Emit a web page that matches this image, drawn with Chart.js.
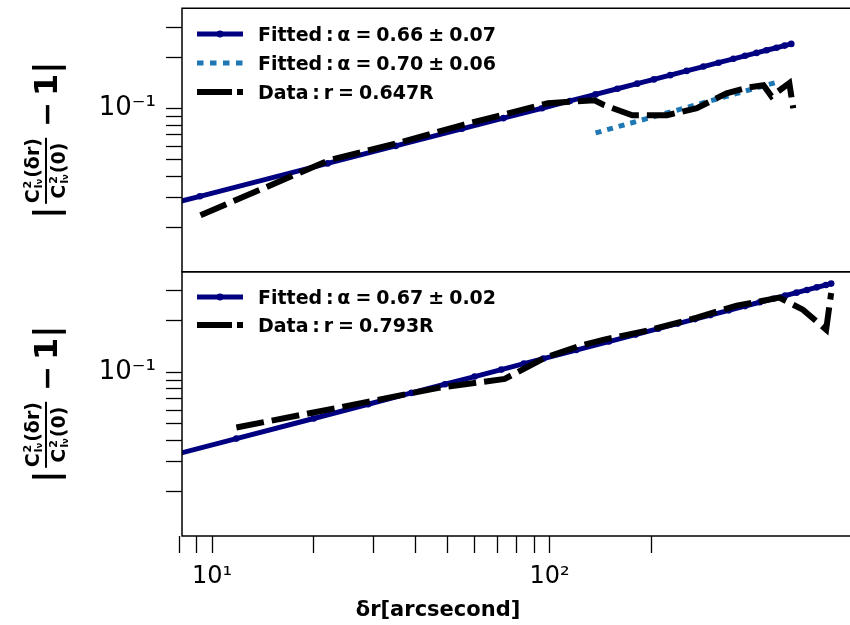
<!DOCTYPE html>
<html>
<head>
<meta charset="utf-8">
<script src="https://cdn.jsdelivr.net/npm/chart.js@4.4.0/dist/chart.umd.min.js"></script>
<style>
html,body{margin:0;padding:0;background:#fff;overflow:hidden;width:850px;height:625px;}
canvas{position:absolute;left:0;top:0;}
.row{position:absolute;left:197px;display:flex;align-items:center;white-space:nowrap;transform:translateY(-50%);
     font:bold 19px "DejaVu Sans";color:#000;word-spacing:-1.6px;}
.row svg{margin-right:15px;display:block;}
.ylab{position:absolute;transform:translate(-50%,-50%) rotate(-90deg);display:flex;align-items:center;
      font-family:"DejaVu Sans";font-weight:bold;white-space:nowrap;color:#000;}
.bar{font-size:34px;line-height:1;}
.frac{display:inline-flex;flex-direction:column;align-items:center;font-size:19px;line-height:1.05;margin:0 3px;}
.fl{align-self:stretch;height:2px;background:#000;margin:1px 0;}
.ss{display:inline-flex;flex-direction:column;font-size:11px;line-height:1;vertical-align:middle;margin:0 1px;}
.ss small{font-size:8px;}
.op{font-size:30px;margin:0 6px 0 8px;}
.one{font-size:32px;}
.xt{position:absolute;left:438px;top:609px;transform:translate(-50%,-50%);font:bold 21px "DejaVu Sans";color:#000;white-space:nowrap;}
</style>
</head>
<body>
<canvas id="cTop" width="852" height="625"></canvas>
<canvas id="cBot" width="852" height="625"></canvas>

<div class="ylab" style="left:46px;top:140px">
  <span class="bar">|</span>
  <span class="frac">
    <span>C<span class="ss"><span>2</span><span>I<small>ν</small></span></span>(δr)</span>
    <span class="fl"></span>
    <span>C<span class="ss"><span>2</span><span>I<small>ν</small></span></span>(0)</span>
  </span>
  <span class="op">−</span><span class="one">1</span>
  <span class="bar">|</span>
</div>
<div class="ylab" style="left:46px;top:404px">
  <span class="bar">|</span>
  <span class="frac">
    <span>C<span class="ss"><span>2</span><span>I<small>ν</small></span></span>(δr)</span>
    <span class="fl"></span>
    <span>C<span class="ss"><span>2</span><span>I<small>ν</small></span></span>(0)</span>
  </span>
  <span class="op">−</span><span class="one">1</span>
  <span class="bar">|</span>
</div>

<div id="legTop"></div>
<div id="legBot"></div>
<div class="xt">δr[arcsecond]</div>

<script>
/* ---------- data ---------- */
// top panel, r = 0.647R
const X_FIT_TOP = [8.0, 9.2, 22, 35, 55, 73, 95, 115, 137, 159, 182, 204, 228, 255, 286, 317, 351, 380, 411, 440, 471, 498, 521];
const Y_FIT_TOP = [0.0284, 0.0305, 0.0476, 0.0603, 0.0760, 0.0878, 0.1004, 0.1108, 0.1211, 0.1307, 0.1400, 0.1483, 0.1571, 0.1664, 0.1764, 0.1859, 0.1959, 0.2040, 0.2123, 0.2199, 0.2276, 0.2342, 0.2397];
const X_FIT2_TOP = [137, 476];
const Y_FIT2_TOP = [0.0719, 0.1434];
const X_DATA_TOP = [9.24, 22.2, 35.3, 54.8, 72.9, 98.9, 136, 145.5, 176, 223, 273.5, 335, 392, 431, 455, 514, 528];
const Y_DATA_TOP = [0.0236, 0.0497, 0.0625, 0.0797, 0.0920, 0.1075, 0.1119, 0.1046, 0.0913, 0.0913, 0.1004, 0.1230, 0.1335, 0.1371, 0.1181, 0.1409, 0.1004];

// bottom panel, r = 0.793R
const X_FIT_BOT = [8.0, 11.8, 20, 29, 39, 49, 60, 72, 84, 96, 120, 150, 180, 210, 240, 270, 300, 340, 380, 420, 460, 500, 540, 580, 620, 660, 684];
const Y_FIT_BOT = [0.0335, 0.0409, 0.0536, 0.0650, 0.0757, 0.0851, 0.0944, 0.1037, 0.1123, 0.1203, 0.1349, 0.1513, 0.1662, 0.1800, 0.1927, 0.2048, 0.2162, 0.2305, 0.2441, 0.2570, 0.2693, 0.2812, 0.2925, 0.3034, 0.3141, 0.3243, 0.3304];
const X_DATA_BOT = [11.8, 23.8, 46.9, 73.7, 96.7, 123.7, 145.2, 194.7, 273.5, 358.7, 480, 564, 661, 684];
const Y_DATA_BOT = [0.0475, 0.0622, 0.0811, 0.0915, 0.1214, 0.1432, 0.1553, 0.1753, 0.2089, 0.2455, 0.2734, 0.2326, 0.1777, 0.2912];

const LABELS_TOP = ["Fitted\u2009:\u2009α = 0.66 ± 0.07", "Fitted\u2009:\u2009α = 0.70 ± 0.06", "Data\u2009:\u2009r = 0.647R"];
const LABELS_BOT = ["Fitted\u2009:\u2009α = 0.67 ± 0.02", "Data\u2009:\u2009r = 0.793R"];

const X_TICKS = [8, 9, 10, 20, 30, 40, 50, 60, 70, 80, 90, 100, 200];
const Y_TICKS = [0.02, 0.03, 0.04, 0.05, 0.06, 0.07, 0.08, 0.09, 0.1, 0.2, 0.3];
const X_MIN = 8.142, X_MAX = 767.3;
const Y_MIN = 0.0110, Y_MAX = 0.388;

/* ---------- styles ---------- */
const C = { navy:"#000080", blue:"#1f77b4", black:"#000000" };
const FONT = "DejaVu Sans";

const pts = (xs, ys) => xs.map((x, i) => ({ x, y: ys[i] }));

const fitSet = (xs, ys) => ({ data: pts(xs, ys), borderColor: C.navy, borderWidth: 5, backgroundColor: C.navy,
  pointRadius: 3.3, pointBorderWidth: 0, pointBackgroundColor: C.navy, tension: 0, clip: 0, order: 3 });
const fit2Set = (xs, ys) => ({ data: pts(xs, ys), borderColor: C.blue, borderWidth: 5, borderDash: [6, 6],
  borderCapStyle: "butt", pointRadius: 0, tension: 0, clip: 0, order: 2 });
const dataSet = (xs, ys) => ({ data: pts(xs, ys), borderColor: C.black, borderWidth: 6, borderDash: [28, 8],
  borderCapStyle: "butt", borderJoinStyle: "miter", pointRadius: 0, tension: 0, clip: 0, order: 1 });

/* spines: top, left, bottom (right side runs off the figure) */
const frame = { id: "frame", afterDraw(c) {
  const { ctx, chartArea: a } = c;
  ctx.save(); ctx.strokeStyle = "#000"; ctx.lineWidth = 1.5;
  ctx.beginPath();
  ctx.moveTo(a.right + 2, a.top); ctx.lineTo(a.left, a.top);
  ctx.lineTo(a.left, a.bottom); ctx.lineTo(a.right + 2, a.bottom);
  ctx.stroke(); ctx.restore();
} };

const yScale = () => ({
  type: "logarithmic", min: Y_MIN, max: Y_MAX,
  afterBuildTicks: s => { s.ticks = Y_TICKS.map(v => ({ value: v })); },
  afterFit: s => { s.width = 182; s.paddingTop = 0; s.paddingBottom = 0; },
  ticks: { autoSkip: false, padding: 10, color: "#000", font: { family: FONT, size: 26 },
           callback: v => (Math.abs(v - 0.1) < 1e-9 ? "10\u207B\u00B9" : "") },
  grid: { drawOnChartArea: false, drawTicks: true, tickLength: 16, tickColor: "#000", tickWidth: 1.3 },
  border: { display: false }
});

const baseOpts = (padTop, padBottom, showX) => ({
  responsive: false, animation: false, devicePixelRatio: 1,
  layout: { padding: { top: padTop, bottom: padBottom, left: 0, right: 0 } },
  plugins: { legend: { display: false }, tooltip: { enabled: false } },
  scales: {
    x: showX ? {
      type: "logarithmic", min: X_MIN, max: X_MAX,
      afterBuildTicks: s => { s.ticks = X_TICKS.map(v => ({ value: v })); },
      afterFit: s => { s.height = 89; s.paddingLeft = 0; s.paddingRight = 0; },
      ticks: { autoSkip: false, maxRotation: 0, padding: 9, color: "#000", font: { family: FONT, size: 24 },
               callback: v => (v === 10 ? "10\u00B9" : v === 100 ? "10\u00B2" : "") },
      grid: { drawOnChartArea: false, drawTicks: true, tickLength: 17, tickColor: "#000", tickWidth: 1.3 },
      border: { display: false }
    } : { type: "logarithmic", min: X_MIN, max: X_MAX, display: false },
    y: yScale()
  }
});

new Chart(document.getElementById("cTop"), {
  type: "line",
  data: { datasets: [fitSet(X_FIT_TOP, Y_FIT_TOP), fit2Set(X_FIT2_TOP, Y_FIT2_TOP), dataSet(X_DATA_TOP, Y_DATA_TOP)] },
  options: baseOpts(8.3, 353.3, false),
  plugins: [frame]
});
new Chart(document.getElementById("cBot"), {
  type: "line",
  data: { datasets: [fitSet(X_FIT_BOT, Y_FIT_BOT), dataSet(X_DATA_BOT, Y_DATA_BOT)] },
  options: baseOpts(271.7, 0, true),
  plugins: [frame]
});

/* ---------- legends (html) ---------- */
const HANDLE = {
  fit:  '<svg width="46" height="10"><line x1="0" y1="5" x2="46" y2="5" stroke="#000080" stroke-width="5"/><circle cx="23" cy="5" r="3.4" fill="#000080"/></svg>',
  fit2: '<svg width="46" height="10"><line x1="0" y1="5" x2="46" y2="5" stroke="#1f77b4" stroke-width="5" stroke-dasharray="6.5 6.5"/></svg>',
  data: '<svg width="46" height="10"><line x1="0" y1="5" x2="46" y2="5" stroke="#000" stroke-width="6" stroke-dasharray="35 5"/></svg>'
};
function legend(id, rows){
  document.getElementById(id).innerHTML = rows.map(r =>
    `<div class="row" style="top:${r.y}px">${HANDLE[r.h]}<span>${r.t}</span></div>`).join("");
}
legend("legTop", [{ h:"fit", t:LABELS_TOP[0], y:34.3 }, { h:"fit2", t:LABELS_TOP[1], y:63.3 }, { h:"data", t:LABELS_TOP[2], y:91.7 }]);
legend("legBot", [{ h:"fit", t:LABELS_BOT[0], y:297.3 }, { h:"data", t:LABELS_BOT[1], y:325 }]);
</script>
</body>
</html>
